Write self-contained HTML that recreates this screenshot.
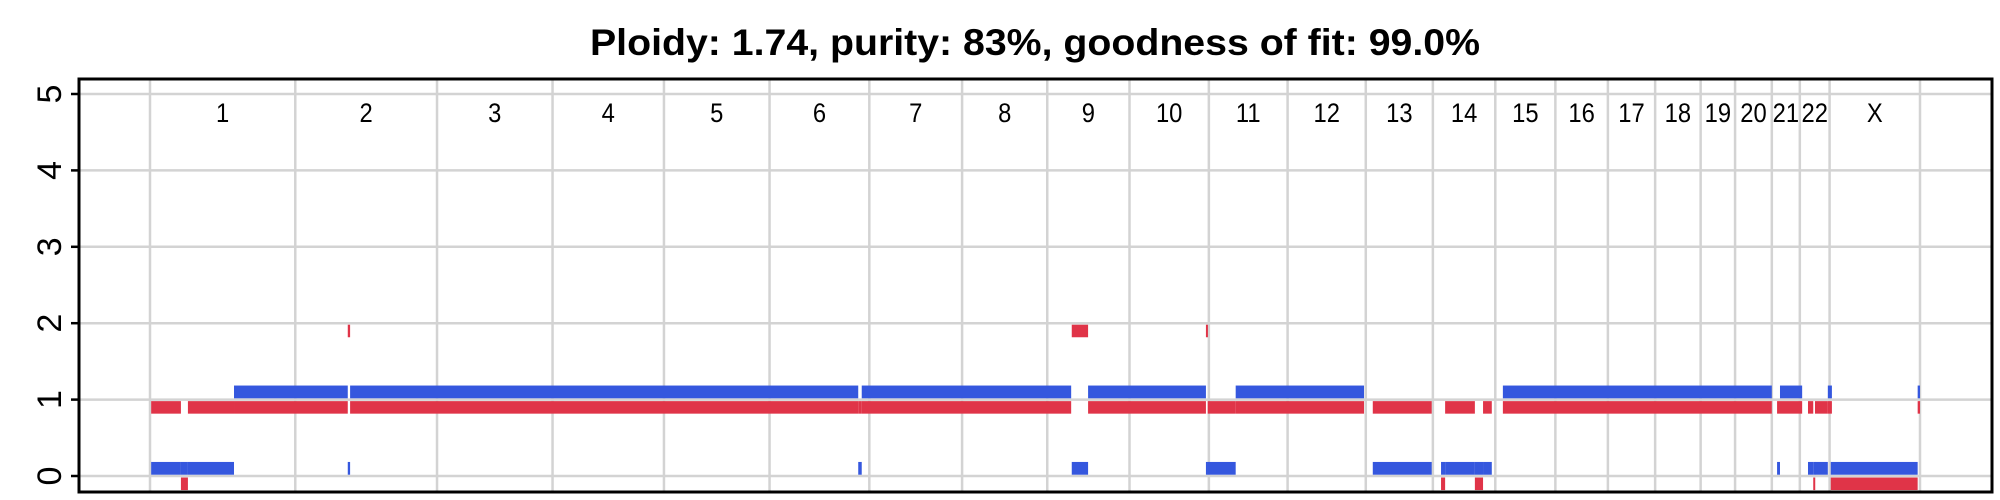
<!DOCTYPE html>
<html><head><meta charset="utf-8"><style>
html,body{margin:0;padding:0;background:#fff;}
svg{display:block;font-family:"Liberation Sans",Arial,sans-serif;}
</style></head><body>
<svg id="chart" width="2000" height="500" xmlns="http://www.w3.org/2000/svg">
<text x="1035" y="55" text-anchor="middle" font-size="37" font-weight="bold" textLength="890" lengthAdjust="spacingAndGlyphs">Ploidy: 1.74, purity: 83%, goodness of fit: 99.0%</text>
<g id="grid"></g>
<g id="marks"></g>
<g id="labels"></g>
<g id="yaxis"></g>
<rect x="79" y="79" width="1913" height="413" fill="none" stroke="#000" stroke-width="3"/>
</svg>
<script>
const chromNames = ["1","2","3","4","5","6","7","8","9","10","11","12","13","14","15","16","17","18","19","20","21","22","X"];
const chromLengths = [249,243,198,191,181,171,159,146,141,136,135,134,115,107,103,90,81,78,59,63,48,51,155];
const yTicks = [0,1,2,3,4,5];
// segments in cumulative genome Mb
const segStart = [2,53,65,144,339,343,1214,1220,1580,1608,1810,1813,1861,2096,2213,2220,2271,2285,2319,2789,2794,2842,2851,2854,2876,2881,3030];
const segEnd   = [53,65,144,339,343,1214,1220,1579,1608,1810,1813,1861,2081,2197,2220,2271,2285,2300,2780,2794,2832,2851,2854,2876,2883,3030,3034];
const blueCN   = [0,0,0,1,0,1,0,1,0,1,0,0,1,0,0,0,0,0,1,0,1,0,0,0,1,0,1];
const redCN    = [1,0,1,1,2,1,1,1,2,1,2,1,1,1,0,1,0,1,1,1,1,1,0,1,1,0,1];

const NS="http://www.w3.org/2000/svg";
const total = chromLengths.reduce((a,b)=>a+b,0);
const X0=150, X1=1920;
const xs = g => X0 + g*(X1-X0)/total;
const ys = v => 476 - v*76.4;
function mk(tag, attrs, parent){const e=document.createElementNS(NS,tag);for(const k in attrs)e.setAttribute(k,attrs[k]);parent.appendChild(e);return e;}
const grid=document.getElementById('grid'), marks=document.getElementById('marks'), labels=document.getElementById('labels'), yaxis=document.getElementById('yaxis');

yTicks.forEach(t=>{
  const l=mk('line',{x1:79,x2:1992,y1:ys(t),y2:ys(t),stroke:'#d3d3d3','stroke-width':2.5},grid);
  
  
  const tk=mk('line',{x1:71,x2:79,y1:ys(t),y2:ys(t),stroke:'#000','stroke-width':2.5},yaxis);
  
  
  const tx=mk('text',{x:0,y:0,'font-size':34,'text-anchor':'middle',transform:`translate(61,${ys(t)}) rotate(-90)`},yaxis);
  tx.textContent=t;
  
  
});
let cum=0;
const bounds=[0];
chromLengths.forEach(L=>{cum+=L;bounds.push(cum);});
bounds.forEach(b=>{
  const l=mk('line',{x1:xs(b),x2:xs(b),y1:79,y2:492,stroke:'#d3d3d3','stroke-width':2.5},grid);
  
  
});
chromNames.forEach((n,i)=>{
  const cx=(xs(bounds[i])+xs(bounds[i+1]))/2;
  const t=mk('text',{x:0,y:0,'font-size':27,'text-anchor':'middle',transform:`translate(${cx},122) scale(0.88,1)`},labels);
  t.textContent=n;
  
  
});
segStart.forEach((s,i)=>{
  const x=xs(s), w=Math.max(2,xs(segEnd[i])-xs(s));
  const b=mk('rect',{x:x,y:ys(blueCN[i]+0.184),width:w,height:ys(blueCN[i]+0.017)-ys(blueCN[i]+0.184),fill:'#3557de'},marks);
  
  
  const r=mk('rect',{x:x,y:ys(redCN[i]-0.02),width:w,height:ys(redCN[i]-0.184)-ys(redCN[i]-0.02),fill:'#e03448'},marks);
  
  
});
</script>
</body></html>
